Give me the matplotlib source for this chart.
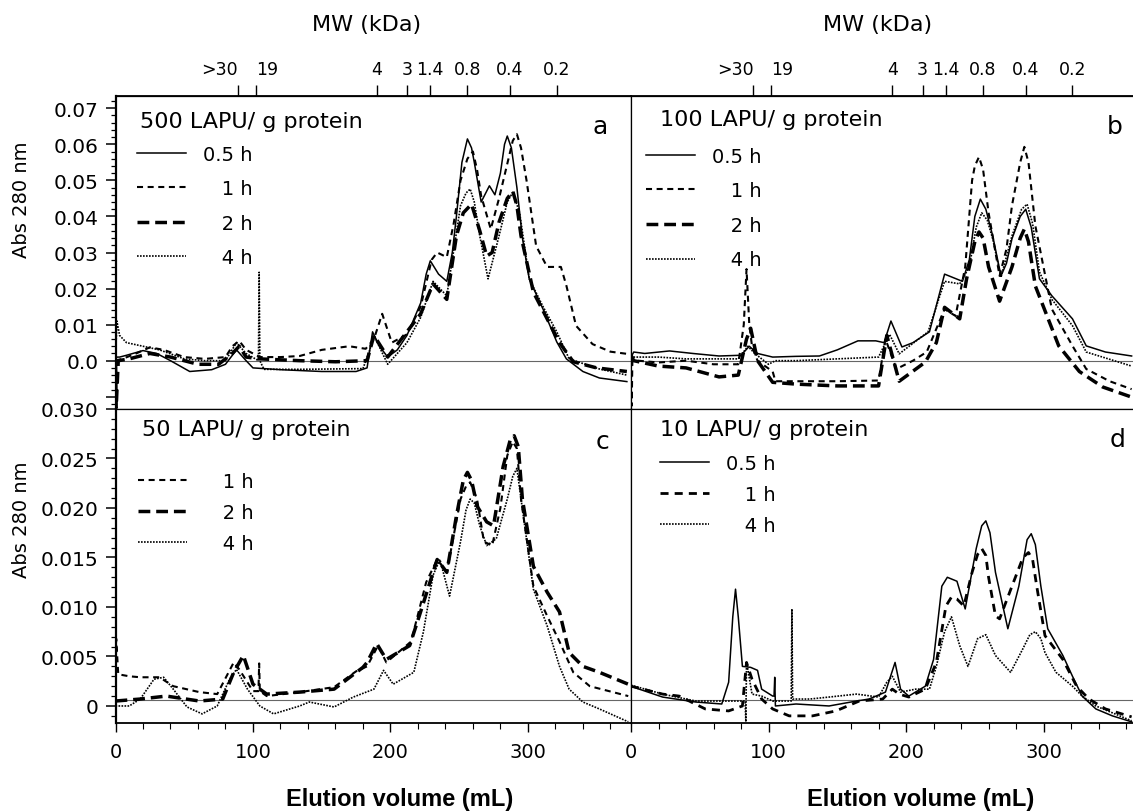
import matplotlib
matplotlib.use("Agg")
import matplotlib.pyplot as plt
from matplotlib.ticker import MultipleLocator

plt.rcParams["font.family"] = ["DejaVu Sans"]

# --- Top axis: MW markers (kDa) at elution volume (mL) ---
MW_POS = [89, 102, 190, 212, 229, 256, 287, 321]
MW_LABELS = [">30", "19", "4", "3", "1.4", "0.8", "0.4", "0.2"]

# --- Panel a: 500 LAPU/ g protein ---
a_05_x = [0, 1, 3, 8, 20, 30, 40, 54, 70, 80, 88, 95, 100, 120, 150, 175, 183, 187, 192, 198, 205,
          212, 222, 226, 229, 235, 241, 245, 248, 252, 256, 259, 261, 266, 272, 276, 280, 283, 285,
          288, 292, 296, 301, 311, 321, 328, 340, 352, 372]
a_05_y = [0.0, 0.001, 0.001, 0.0015, 0.0028, 0.002, 0.0, -0.003, -0.0025, -0.001, 0.003, 0.0,
          -0.002, -0.0025, -0.003, -0.003, -0.002, 0.008, 0.004, 0.001, 0.003, 0.007, 0.016, 0.024,
          0.0277, 0.024, 0.022, 0.030, 0.040, 0.055, 0.0615, 0.059, 0.055, 0.044, 0.0485, 0.046,
          0.052, 0.060, 0.0623, 0.059, 0.048, 0.034, 0.0226, 0.0143, 0.0052, 0.0005, -0.003,
          -0.0048, -0.0058]
a_1_x = [0, 5, 15, 25, 35, 50, 65, 80, 85, 90, 95, 105, 120, 134, 150, 170, 182, 188, 194, 201,
         212, 222, 230, 234, 241, 246, 251, 256, 260, 263, 266, 273, 279, 284, 289, 292, 295, 299,
         306, 314, 324, 328, 335, 347, 360, 372]
a_1_y = [0.0, 0.0005, 0.002, 0.0037, 0.003, 0.001, 0.0005, 0.001, 0.004, 0.0055, 0.003, 0.001,
         0.001, 0.0013, 0.003, 0.004, 0.0033, 0.006, 0.013, 0.005, 0.0073, 0.015, 0.028, 0.030,
         0.0287, 0.038, 0.050, 0.056, 0.058, 0.053, 0.0457, 0.0365, 0.045, 0.053, 0.061, 0.0628,
         0.059, 0.050, 0.0318, 0.026, 0.026, 0.0208, 0.0097, 0.0046, 0.0025, 0.0019]
a_2_x = [0, 0.5, 2, 10, 25, 40, 60, 75, 85, 90, 95, 105, 134, 160, 183, 188, 198, 212, 222, 231,
         241, 248, 253, 259, 265, 270, 274, 279, 285, 289, 292, 295, 304, 314, 323, 333, 350, 372]
a_2_y = [0.0, -0.013, 0.0, 0.0005, 0.002, 0.001, -0.001, -0.001, 0.002, 0.004, 0.001, 0.0005,
         0.0, -0.0003, 0.0, 0.007, 0.001, 0.008, 0.013, 0.0213, 0.017, 0.0346, 0.041, 0.0434,
         0.036, 0.029, 0.030, 0.0384, 0.045, 0.047, 0.043, 0.0346, 0.019, 0.0116, 0.005, -0.0003,
         -0.002, -0.003]
a_4_x = [0, 1, 3, 8, 20, 32, 50, 65, 80, 88, 95, 104, 104.5, 105, 108, 134, 180, 185, 188, 198,
         212, 222, 231, 241, 251, 255, 258, 261, 265, 271, 279, 285, 289, 294, 301, 311, 321, 330,
         352, 372]
a_4_y = [0.0, 0.011, 0.007, 0.005, 0.004, 0.003, 0.0005, 0.0, 0.0, 0.005, 0.002, 0.0, 0.0245,
         0.0, -0.0024, -0.0024, -0.0022, 0.003, 0.007, -0.001, 0.005, 0.012, 0.022, 0.018, 0.043,
         0.0465, 0.0476, 0.044, 0.0346, 0.0227, 0.0346, 0.044, 0.0467, 0.041, 0.0227, 0.015, 0.008,
         0.0005, -0.0023, -0.004]

# --- Panel b: 100 LAPU/ g protein ---
b_05_x = [0, 2, 10, 28, 45, 64, 80, 86, 92, 103, 120, 137, 150, 165, 178, 184, 189, 197, 205,
          217, 228, 241, 246, 250, 254, 258, 263, 269, 273, 277, 283, 287, 291, 297, 306, 321, 331,
          345, 364]
b_05_y = [0.001, 0.0024, 0.002, 0.0027, 0.002, 0.0013, 0.0015, 0.004, 0.002, 0.001, 0.0012,
          0.0013, 0.003, 0.0055, 0.0055, 0.005, 0.011, 0.0038, 0.005, 0.008, 0.024, 0.022, 0.028,
          0.040, 0.0448, 0.042, 0.0346, 0.0235, 0.027, 0.0338, 0.040, 0.042, 0.037, 0.0227, 0.018,
          0.0116, 0.0041, 0.0024, 0.0013]
b_1_x = [0, 0.5, 1, 5, 20, 40, 60, 78, 82, 84, 86, 88, 92, 103, 105, 120, 150, 180, 185, 193,
         205, 215, 220, 228, 236, 243, 248, 250, 253, 256, 260, 268, 273, 277, 283, 286, 289, 294,
         306, 321, 331, 348, 364]
b_1_y = [0.0, -0.0125, 0.0, 0.0, -0.0005, 0.0, -0.001, -0.001, 0.010, 0.0254, 0.010, 0.004, 0.0,
         -0.003, -0.0057, -0.0057, -0.0057, -0.0055, 0.006, -0.0023, 0.0, 0.0024, 0.007, 0.0143,
         0.0124, 0.026, 0.050, 0.054, 0.0565, 0.053, 0.041, 0.0235, 0.031, 0.043, 0.055, 0.0593,
         0.055, 0.0374, 0.0143, 0.0041, -0.0023, -0.0057, -0.0079]
b_2_x = [0, 2, 20, 40, 64, 78, 84, 87, 92, 103, 120, 150, 180, 186, 195, 214, 222, 228, 239, 244,
         250, 253, 256, 260, 268, 277, 283, 286, 289, 294, 311, 326, 343, 364]
b_2_y = [0.0015, 0.0, -0.0015, -0.002, -0.0045, -0.004, 0.006, 0.009, 0.0, -0.006, -0.0065,
         -0.007, -0.007, 0.007, -0.0057, -0.0004, 0.005, 0.0148, 0.0116, 0.0227, 0.033, 0.0357,
         0.034, 0.026, 0.0165, 0.026, 0.034, 0.0365, 0.033, 0.0207, 0.0041, -0.003, -0.0073,
         -0.0101]
b_4_x = [0, 2, 20, 40, 60, 78, 85, 90, 100, 105, 120, 150, 180, 188, 195, 216, 228, 239, 246, 251,
         255, 259, 263, 269, 277, 284, 288, 292, 297, 306, 321, 331, 364]
b_4_y = [0.0005, 0.001, 0.001, 0.0005, 0.0005, 0.0005, 0.004, 0.002, -0.001, 0.0, 0.0, 0.0005,
         0.001, 0.0073, 0.0019, 0.008, 0.022, 0.0213, 0.026, 0.037, 0.041, 0.039, 0.0338, 0.0231,
         0.0346, 0.042, 0.0434, 0.038, 0.0246, 0.017, 0.0097, 0.0024, -0.0015]

# --- Panel c: 50 LAPU/ g protein ---
c_1_x = [0, 0.5, 2, 10, 18, 32, 42, 61, 74, 86, 90, 100, 104, 104.5, 105, 110, 134, 159, 175, 183,
         191, 197, 215, 226, 234, 241, 251, 255, 258, 263, 268, 274, 280, 285, 289, 292, 295, 304,
         314, 323, 333, 345, 373]
c_1_y = [0.0, 0.0068, 0.0032, 0.003, 0.0029, 0.0029, 0.002, 0.0014, 0.0012, 0.0044, 0.0037,
         0.0015, 0.0015, 0.0043, 0.0015, 0.001, 0.0014, 0.0019, 0.0035, 0.004, 0.0061, 0.0044,
         0.0065, 0.0125, 0.0148, 0.0135, 0.0209, 0.0222, 0.0226, 0.0209, 0.0166, 0.0162, 0.020,
         0.0253, 0.0267, 0.026, 0.0209, 0.0121, 0.0091, 0.0065, 0.0034, 0.002, 0.001]
c_2_x = [0, 18, 37, 61, 78, 86, 93, 100, 110, 134, 159, 180, 183, 190, 197, 214, 221, 234, 241,
         248, 253, 256, 259, 263, 270, 275, 282, 287, 290, 293, 296, 304, 314, 323, 330, 340, 352,
         373]
c_2_y = [0.0005, 0.0007, 0.001, 0.0005, 0.0007, 0.0034, 0.0051, 0.0022, 0.0012, 0.0014, 0.0017,
         0.0039, 0.0044, 0.0063, 0.0047, 0.0061, 0.0091, 0.0148, 0.0135, 0.0192, 0.0228, 0.0236,
         0.0228, 0.0202, 0.0186, 0.0182, 0.0242, 0.0268, 0.0273, 0.0262, 0.0209, 0.0141, 0.0115,
         0.0095, 0.0054, 0.004, 0.0034, 0.0022]
c_4_x = [0, 10, 18, 28, 35, 42, 52, 63, 74, 83, 88, 96, 105, 115, 134, 141, 159, 173, 188, 195,
         202, 217, 224, 231, 236, 243, 251, 255, 258, 261, 265, 270, 277, 285, 289, 292, 296, 304,
         314, 323, 330, 340, 352, 373]
c_4_y = [0.0, 0.0, 0.0007, 0.0027, 0.0029, 0.0017, -0.0001, -0.0008, 0.0, 0.0027, 0.0037, 0.0017,
         0.0, -0.0008, 0.0, 0.0004, -0.0001, 0.0009, 0.0017, 0.0036, 0.0022, 0.0034, 0.0075,
         0.0132, 0.0148, 0.0111, 0.0166, 0.0198, 0.0209, 0.0205, 0.0182, 0.0162, 0.0169, 0.0209,
         0.0232, 0.024, 0.0199, 0.0118, 0.0081, 0.004, 0.0017, 0.0004, -0.0003, -0.0016]

# --- Panel d: 10 LAPU/ g protein ---
d_05_x = [0, 6, 23, 47, 66, 71, 74, 76, 78, 81, 87, 92, 95, 103, 104, 104.5, 105, 120, 144, 164,
          173, 185, 192, 196, 202, 214, 220, 226, 230, 237, 243, 251, 255, 258, 261, 265, 274, 282,
          288, 291, 294, 298, 303, 314, 321, 328, 338, 350, 364]
d_05_y = [0.002, 0.0017, 0.0009, 0.0004, 0.0002, 0.0024, 0.009, 0.0118, 0.009, 0.004, 0.0039,
          0.0036, 0.0017, 0.001, 0.001, 0.0029, 0.0, 0.0002, 0.0, 0.0005, 0.0007, 0.0014, 0.0044,
          0.0017, 0.001, 0.002, 0.0047, 0.0121, 0.013, 0.0126, 0.0098, 0.0159, 0.0182, 0.0187,
          0.0175, 0.0135, 0.0078, 0.0121, 0.0168, 0.0174, 0.0163, 0.0121, 0.0078, 0.0051, 0.003,
          0.001, -0.0003, -0.001, -0.0016]
d_1_x = [0, 23, 35, 54, 71, 81, 84, 88, 95, 103, 115, 132, 149, 166, 183, 190, 195, 202, 214, 222,
         229, 233, 237, 242, 248, 252, 255, 258, 260, 265, 268, 277, 285, 289, 292, 295, 301, 314,
         324, 333, 345, 364]
d_1_y = [0.002, 0.0012, 0.001, -0.0003, -0.0005, 0.0, 0.0044, 0.0027, 0.0007, -0.0003, -0.001,
         -0.001, -0.0005, 0.0005, 0.0007, 0.0017, 0.0012, 0.0009, 0.0017, 0.0044, 0.0101, 0.011,
         0.0108, 0.0101, 0.0135, 0.0153, 0.0159, 0.0152, 0.013, 0.0091, 0.0088, 0.0121, 0.015,
         0.0155, 0.0148, 0.0121, 0.0071, 0.0047, 0.002, 0.0007, -0.0003, -0.0011]
d_4_x = [0, 23, 47, 71, 83, 83.5, 84, 88, 95, 103, 116.5, 117, 117.5, 130, 144, 164, 180, 186, 190,
         196, 207, 217, 222, 228, 233, 239, 245, 252, 258, 265, 276, 285, 290, 294, 298, 301, 309,
         321, 328, 338, 364]
d_4_y = [0.0021, 0.0012, 0.0005, 0.0005, 0.0005, -0.0016, 0.0045, 0.0012, 0.001, 0.0005, 0.0005,
         0.0098, 0.0007, 0.0007, 0.0009, 0.0012, 0.0009, 0.0024, 0.003, 0.0014, 0.0017, 0.0017,
         0.004, 0.0075, 0.009, 0.0061, 0.004, 0.0068, 0.0072, 0.0051, 0.0034, 0.0058, 0.0072,
         0.0075, 0.0068, 0.0054, 0.0034, 0.002, 0.001, 0.0, -0.0015]

# --- Axis ticks / labels ---
AB_YTICKS = [-0.01, 0.0, 0.01, 0.02, 0.03, 0.04, 0.05, 0.06, 0.07]
AB_YLABELS = ["", "0.0", "0.01", "0.02", "0.03", "0.04", "0.05", "0.06", "0.07"]
CD_YTICKS = [0.0, 0.005, 0.010, 0.015, 0.020, 0.025, 0.030]
CD_YLABELS = ["0", "0.005", "0.010", "0.015", "0.020", "0.025", "0.030"]
X_TICKS = [0, 100, 200, 300]
BASE_AB = 0.0
BASE_CD = 0.00065

STYLE = {
    "0.5 h": dict(color="black", lw=1.1, ls="-"),
    "1 h": dict(color="black", lw=1.5, dashes=(2.9, 2.2)),
    "2 h": dict(color="black", lw=2.5, dashes=(3.4, 1.7)),
    "4 h": dict(color="black", lw=1.2, dashes=(1, 0.8)),
}
LEG_LABEL = {"0.5 h": "0.5 h", "1 h": "   1 h", "2 h": "   2 h", "4 h": "   4 h"}

# --- Figure layout (pixel boxes) ---
W, H = 1133, 812
fig = plt.figure(figsize=(W / 100, H / 100), dpi=100)


def box(l, t, r, b):
    return [l / W, 1 - b / H, (r - l) / W, (b - t) / H]


ax_a = fig.add_axes(box(115.5, 97, 631, 410))
ax_b = fig.add_axes(box(631, 97, 1133, 410))
ax_c = fig.add_axes(box(115.5, 410, 631, 724))
ax_d = fig.add_axes(box(631, 410, 1133, 724))


def draw_panel(ax, series, title, letter, leg_xy, title_xy, letter_xy, spacing, d1_bold=False):
    handles = []
    for name, x, y in series:
        st = dict(STYLE[name])
        if d1_bold and name == "1 h":
            st["lw"] = 2.0
        ln, = ax.plot(x, y, label=LEG_LABEL[name], **st)
        handles.append(ln)
    order = ["0.5 h", "1 h", "2 h", "4 h"]
    handles.sort(key=lambda h: order.index(h.get_label().strip()))
    ax.legend(handles=handles, loc="upper left", bbox_to_anchor=leg_xy, frameon=False,
              fontsize=14, handlelength=2.5, handletextpad=0.9, labelspacing=spacing,
              borderpad=0, borderaxespad=0)
    ax.text(title_xy[0], title_xy[1], title, transform=ax.transAxes, fontsize=16,
            ha="left", va="center")
    ax.text(letter_xy[0], letter_xy[1], letter, transform=ax.transAxes, fontsize=18,
            ha="center", va="center")
    for s in ax.spines.values():
        s.set_linewidth(0.9)


draw_panel(ax_a, [("0.5 h", a_05_x, a_05_y), ("1 h", a_1_x, a_1_y), ("2 h", a_2_x, a_2_y),
                  ("4 h", a_4_x, a_4_y)],
           "500 LAPU/ g protein", "a", (0.042, 0.845), (0.0475, 0.92), (0.94, 0.904), 0.8)
draw_panel(ax_b, [("0.5 h", b_05_x, b_05_y), ("1 h", b_1_x, b_1_y), ("2 h", b_2_x, b_2_y),
                  ("4 h", b_4_x, b_4_y)],
           "100 LAPU/ g protein", "b", (0.030, 0.838), (0.058, 0.927), (0.964, 0.904), 0.8)
draw_panel(ax_c, [("1 h", c_1_x, c_1_y), ("2 h", c_2_x, c_2_y), ("4 h", c_4_x, c_4_y)],
           "50 LAPU/ g protein", "c", (0.0436, 0.800), (0.051, 0.936), (0.944, 0.898), 0.62)
draw_panel(ax_d, [("0.5 h", d_05_x, d_05_y), ("1 h", d_1_x, d_1_y), ("4 h", d_4_x, d_4_y)],
           "10 LAPU/ g protein", "d", (0.058, 0.857), (0.058, 0.936), (0.970, 0.904), 0.62,
           d1_bold=True)

for ax in (ax_a, ax_b):
    ax.set_xlim(0, 375 if ax is ax_a else 365)
    ax.set_ylim(-0.0134, 0.0734)
    ax.axhline(BASE_AB, color="0.4", lw=0.8, zorder=0)
    ax.tick_params(axis="x", which="both", bottom=False, labelbottom=False)
    sec = ax.secondary_xaxis("top")
    sec.set_xticks(MW_POS)
    sec.set_xticklabels(MW_LABELS)
    sec.tick_params(direction="out", length=8, width=1, labelsize=12.5, pad=5)
    sec.spines["top"].set_linewidth(1.3)
    labels = sec.get_xticklabels()
    labels[0].set_horizontalalignment("right")
    labels[1].set_horizontalalignment("left")

for ax in (ax_c, ax_d):
    ax.set_xlim(0, 375 if ax is ax_c else 365)
    ax.set_ylim(-0.00172, 0.030)
    ax.axhline(BASE_CD, color="0.4", lw=0.8, zorder=0)
    ax.set_xticks(X_TICKS)
    ax.set_xticklabels([str(v) for v in X_TICKS])
    ax.xaxis.set_minor_locator(MultipleLocator(20))
    ax.tick_params(axis="x", which="major", direction="out", length=6.5, width=1,
                   labelsize=14, pad=7)
    ax.tick_params(axis="x", which="minor", direction="out", length=4, width=0.8)
    ax.spines["bottom"].set_linewidth(1.3)

ax_a.set_yticks(AB_YTICKS)
ax_a.set_yticklabels(AB_YLABELS)
ax_a.yaxis.set_minor_locator(MultipleLocator(0.002))
ax_c.set_yticks(CD_YTICKS)
ax_c.set_yticklabels(CD_YLABELS)
ax_c.yaxis.set_minor_locator(MultipleLocator(0.001))
for ax in (ax_a, ax_c):
    ax.tick_params(axis="y", which="major", direction="out", length=7, width=1.1,
                   labelsize=14.5, pad=5)
    ax.tick_params(axis="y", which="minor", direction="out", length=3.6, width=0.9)
    ax.spines["left"].set_linewidth(1.6)
for ax in (ax_b, ax_d):
    ax.tick_params(axis="y", which="both", left=False, labelleft=False)
    ax.spines["right"].set_visible(False)

# --- Figure texts ---
fig.text(367 / W, 1 - 25 / H, "MW (kDa)", fontsize=16, ha="center", va="center")
fig.text(878 / W, 1 - 25 / H, "MW (kDa)", fontsize=16, ha="center", va="center")
fig.text(22 / W, 1 - 200 / H, "Abs 280 nm", fontsize=14, rotation=90, ha="center", va="center")
fig.text(22 / W, 1 - 520 / H, "Abs 280 nm", fontsize=14, rotation=90, ha="center", va="center")
for xc in (400, 921):
    fig.text(xc / W, 1 - 800 / H, "Elution volume (mL)", fontsize=17, fontweight="bold",
             family=["Liberation Sans Narrow", "Liberation Sans"], ha="center", va="center")

fig.savefig("out.png", dpi=100)
